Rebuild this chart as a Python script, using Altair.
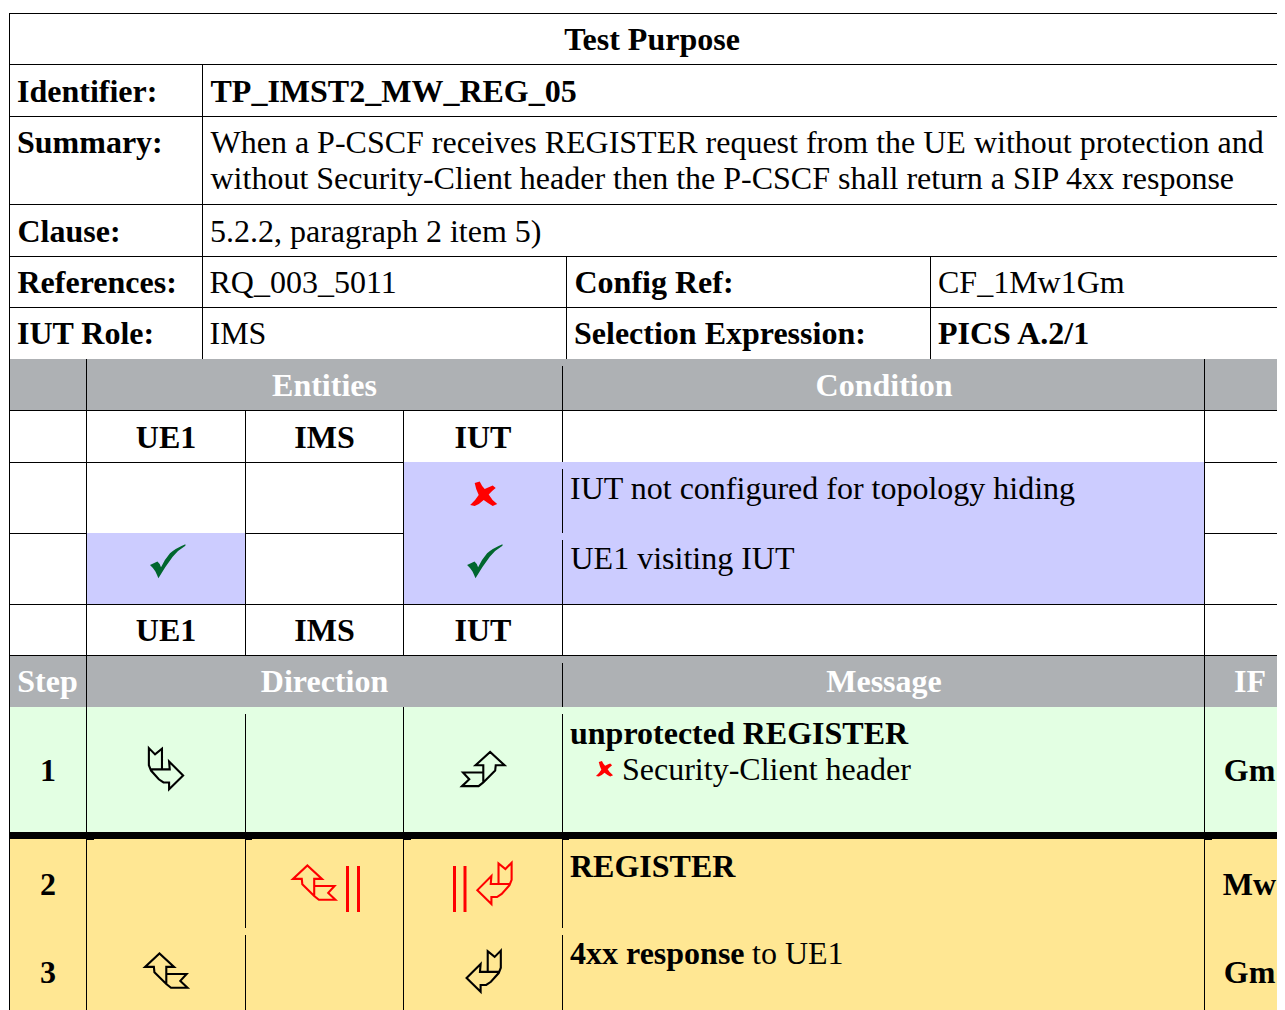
import altair as alt
import pandas as pd

# ---- content -------------------------------------------------------------
FONT = "Liberation Serif"
FS = 32

bold_left = [
    ("Identifier:", 17, 102), ("TP_IMST2_MW_REG_05", 210.5, 102),
    ("Summary:", 17, 153), ("Clause:", 17.5, 242), ("References:", 17.5, 293),
    ("Config Ref:", 574.5, 293), ("IUT Role:", 17, 344),
    ("Selection Expression:", 574, 344), ("PICS A.2/1", 938, 344),
    ("unprotected REGISTER", 570, 744), ("REGISTER", 570, 877),
    ("4xx response", 570, 964),
]
regular_left = [
    ("When a P-CSCF receives REGISTER request from the UE without protection and", 210.5, 153),
    ("without Security-Client header then the P-CSCF shall return a SIP 4xx response", 210.5, 189),
    ("5.2.2, paragraph 2 item 5)", 210, 242),
    ("RQ_003_5011", 209.5, 293), ("CF_1Mw1Gm", 938, 293), ("IMS", 209.5, 344),
    ("IUT not configured for topology hiding", 570, 499),
    ("UE1 visiting IUT", 570.5, 569),
    ("Security-Client header", 622, 780), ("to UE1", 752, 964),
]
bold_center = [
    ("Test Purpose", 652, 50),
    ("UE1", 166, 448), ("IMS", 324.5, 448), ("IUT", 483, 448),
    ("UE1", 166, 641), ("IMS", 324.5, 641), ("IUT", 483, 641),
    ("1", 48, 781), ("2", 48, 895), ("3", 48, 983),
    ("Gm", 1249.5, 781), ("Mw", 1249.5, 895), ("Gm", 1249.5, 983),
]
white_center = [
    ("Entities", 324.5, 396), ("Condition", 884, 396),
    ("Step", 47.5, 692), ("Direction", 324.5, 692), ("Message", 884, 692), ("IF", 1250, 692),
]

GRAY, LAV, GREEN, YEL = "#aeb1b4", "#ccccff", "#e3ffe3", "#ffe793"
XMAX = 1277
fills = [
    (10, XMAX, 359, 410, GRAY), (404, 1204, 462, 604, LAV), (87, 245, 533, 604, LAV),
    (10, XMAX, 656, 707, GRAY), (10, XMAX, 707, 832, GREEN), (10, XMAX, 839, 1010, YEL),
    (10, XMAX, 832, 839, "#000000"),
    (87, 94, 839, 840, "#000000"), (246, 252, 839, 840, "#000000"), (404, 411, 839, 840, "#000000"),
    (563, 569, 839, 840, "#000000"), (1205, 1212, 839, 840, "#000000"),
]
h_lines = [
    (9, XMAX, 13.5), (9, XMAX, 64.5), (9, XMAX, 116.5), (9, XMAX, 204.5), (9, XMAX, 256.5), (9, XMAX, 307.5),
    (9, XMAX, 410.5), (9, 403, 462.5), (1205, XMAX, 462.5), (9, 86, 533.5), (245, 403, 533.5),
    (1205, XMAX, 533.5), (9, XMAX, 604.5), (9, XMAX, 655.5),
]
v_lines = [
    (9.5, 13, 1010), (86.5, 359, 1010), (202.5, 64, 359), (566.5, 256, 359), (930.5, 256, 359),
    (245.5, 410, 655), (245.5, 714, 928), (245.5, 935, 1010),
    (403.5, 410, 655), (403.5, 707, 1010),
    (562.5, 366, 462), (562.5, 469, 533), (562.5, 540, 655), (562.5, 663, 707),
    (562.5, 714, 928), (562.5, 935, 1010), (1204.5, 359, 1010),
]
red_bars = [(347.5, 866, 912), (358.5, 866, 912), (454.5, 866, 912), (465, 866, 912)]

CHECK = "M-17.7,3.7 L-10.3,.3 Q-8,2 -6.7,6 Q-3,-2 2.3,-8 Q8,-13 17.7,-17 L17.7,-15.5 Q10,-11 5,-4.5 Q-3,6 -9.3,17 Q-11,13 -12.3,10.3 Q-15,6 -17.7,3.7 Z"
CROSS = "M-9,-11 L-4,-12.5 Q-2,-8 1,-5 Q5,-7 9,-8.5 L12,-6 Q8,-3 5,.5 Q8,6 13.5,10 L9,12 Q4,9 0,6 Q-4,10 -9,12 L-13.5,11 Q-8,6 -5,1 Q-8,-5 -9,-11 Z"
ARROW_A = "M-18.3,-22 L-11.7,-15.3 L-4.3,-21.3 L-4.3,.7 L4,.7 L3.3,-7.7 L18.3,7.3 L3.3,22 L3.3,14.7 L-2.7,14.7 L-7.7,11.3 L-16,2 L-18.3,-3.7 Z M-16,.7 L-4.3,.7"
ARROW_B = "M-22.7,18.3 L-15,11 L-21.7,3.7 L0,3.7 L0,-4 L-8.3,-4 L7.3,-18.3 L22.7,-4 L13.3,-4 L12.7,1.7 L0,14.3 L-5,18.3 Z M0,3.7 L0,14.3"
ARROW_C = "M22.7,18.3 L15,11 L21.7,3.7 L0,3.7 L0,-4 L8.3,-4 L-7.3,-18.3 L-22.7,-4 L-13.3,-4 L-12.7,1.7 L0,14.3 L5,18.3 Z M0,3.7 L0,14.3"
ARROW_D = "M18.3,-22 L11.7,-15.3 L4.3,-21.3 L4.3,.7 L-4,.7 L-3.3,-7.7 L-18.3,7.3 L-3.3,22 L-3.3,14.7 L2.7,14.7 L7.7,11.3 L16,2 L18.3,-3.7 Z M16,.7 L4.3,.7"

filled_glyphs = [
    (CHECK, 167.7, 561.3, "#00662e", 4), (CHECK, 484.8, 561.3, "#00662e", 4),
    (CROSS, 483.7, 494, "#ff0000", 4), (CROSS, 604.5, 769, "#ff0000", 1.6),
]
outline_glyphs = [
    (ARROW_A, 166, 768.7, "#000000"), (ARROW_B, 483.3, 769, "#000000"),
    (ARROW_C, 314.2, 882.6, "#ff0000"), (ARROW_D, 494.5, 883.3, "#ff0000"),
    (ARROW_C, 166.3, 970.6, "#000000"), (ARROW_D, 483.7, 971.2, "#000000"),
]

# ---- chart ---------------------------------------------------------------
xs = alt.Scale(domain=[8, XMAX], range=[0, XMAX - 8], nice=False, zero=False)
ys = alt.Scale(domain=[8, 1010], range=[0, 1002], nice=False, zero=False)
X = lambda f: alt.X(f"{f}:Q", scale=xs, axis=None)
Y = lambda f: alt.Y(f"{f}:Q", scale=ys, axis=None)

rects = alt.Chart(pd.DataFrame(fills, columns=["x", "x2", "y", "y2", "c"])).mark_rect(strokeWidth=0).encode(
    x=X("x"), x2="x2:Q", y=Y("y"), y2="y2:Q", color=alt.Color("c:N", scale=None))
hl = alt.Chart(pd.DataFrame(h_lines, columns=["x", "x2", "y"])).mark_rule(color="#000000", strokeWidth=1).encode(
    x=X("x"), x2="x2:Q", y=Y("y"))
vl = alt.Chart(pd.DataFrame(v_lines, columns=["x", "y", "y2"])).mark_rule(color="#000000", strokeWidth=1).encode(
    x=X("x"), y=Y("y"), y2="y2:Q")
bars = alt.Chart(pd.DataFrame(red_bars, columns=["x", "y", "y2"])).mark_rule(color="#ff0000", strokeWidth=3).encode(
    x=X("x"), y=Y("y"), y2="y2:Q")


def text_layer(rows, align, weight, colour):
    return alt.Chart(pd.DataFrame(rows, columns=["t", "x", "y"])).mark_text(
        font=FONT, fontSize=FS, fontWeight=weight, align=align, baseline="alphabetic", color=colour
    ).encode(x=X("x"), y=Y("y"), text="t:N")


def glyph_layer(path, x, y, colour, size, filled):
    df = pd.DataFrame({"x": [x], "y": [y]})
    if filled:
        mark = alt.MarkDef(type="point", shape=path, size=size, filled=True, fill=colour, stroke=None, opacity=1)
    else:
        mark = alt.MarkDef(type="point", shape=path, size=size, filled=False, stroke=colour, strokeWidth=2.1,
                           strokeJoin="miter", opacity=1)
    return alt.Chart(df, mark=mark).encode(x=X("x"), y=Y("y"))


layers = [rects, hl, vl, bars,
          text_layer(bold_left, "left", "bold", "#000000"),
          text_layer(regular_left, "left", "normal", "#000000"),
          text_layer(bold_center, "center", "bold", "#000000"),
          text_layer(white_center, "center", "bold", "#ffffff")]
layers += [glyph_layer(p, x, y, c, s, True) for p, x, y, c, s in filled_glyphs]
layers += [glyph_layer(p, x, y, c, 3.5, False) for p, x, y, c in outline_glyphs]

chart = alt.layer(*layers).properties(
    width=XMAX - 8, height=1002, padding=0, background="#ffffff",
    autosize=alt.AutoSizeParams(type="none"),
).configure_view(stroke=None)

chart.save("out.html", embed_options={"renderer": "svg", "actions": False})
